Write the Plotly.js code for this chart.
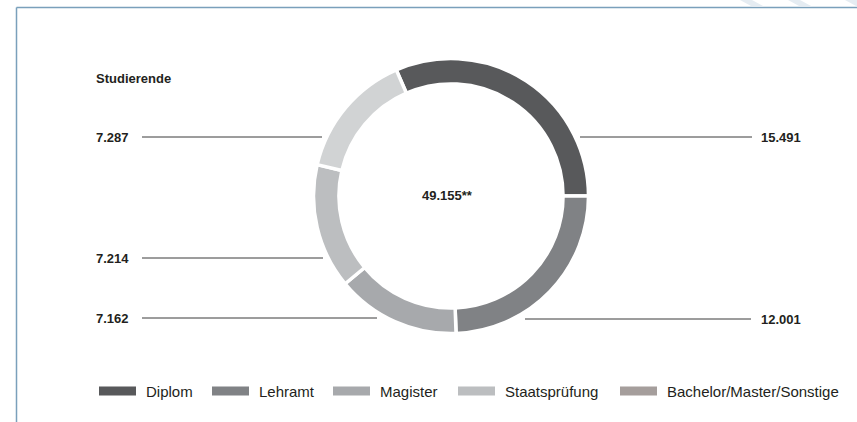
<!DOCTYPE html>
<html>
<head>
<meta charset="utf-8">
<script src="https://cdn.plot.ly/plotly-3.0.1.min.js"></script>
<style>html,body{margin:0;padding:0;background:#fff;}#chart{width:857px;height:422px;}</style>
</head>
<body>
<div id="chart"></div>
<script>
// ---- data ----
var categories = ["Diplom", "Lehramt", "Magister", "Staatsprüfung", "Bachelor/Master/Sonstige"];
var values = [15491, 12001, 7162, 7214, 7287];
var sliceColors = ["#58595b", "#808285", "#a7a9ac", "#bcbec0", "#d1d3d4"];
var legendColors = ["#58595b", "#808285", "#a7a9ac", "#bcbec0", "#a59e9c"];
var chartTitle = "Studierende";
var totalLabel = "49.155**";

// ---- helpers ----
var W = 857, H = 422;
function X(px) { return px / W; }
function Y(py) { return 1 - py / H; }
function fmt(v) {
  var s = String(v);
  return s.replace(/\B(?=(\d{3})+(?!\d))/g, ".");
}
var total = values.reduce(function (a, b) { return a + b; }, 0);
var rotation = 90 - 360 * values[0] / total;

var FONT = "'Liberation Sans', Arial, Helvetica, sans-serif";
var TXT = "#231f20";

// pie geometry (pixels)
var cx = 451, cy = 196, R = 137.5;

var trace = {
  type: "pie",
  labels: categories,
  values: values,
  sort: false,
  direction: "clockwise",
  rotation: rotation,
  hole: 0.815,
  textinfo: "none",
  hoverinfo: "none",
  showlegend: false,
  marker: { colors: sliceColors, line: { color: "#ffffff", width: 3.5 } },
  domain: { x: [X(cx - R), X(cx + R)], y: [Y(cy + R), Y(cy - R)] }
};

var shapes = [];
var annotations = [];

// frame
shapes.push({ type: "line", xref: "paper", yref: "paper", x0: X(16.5), x1: X(16.5), y0: Y(7.5), y1: Y(422), line: { color: "#7aa0bb", width: 1.5 } });
shapes.push({ type: "line", xref: "paper", yref: "paper", x0: X(16.5), x1: X(857), y0: Y(7.5), y1: Y(7.5), line: { color: "#7aa0bb", width: 1.5 } });
// faint watermark stripes above the frame
[[740, 752], [788, 800], [845, 857]].forEach(function (s) {
  var a = s[0];
  shapes.push({ type: "path", xref: "paper", yref: "paper",
    path: "M" + X(a) + "," + Y(0) + " L" + X(a + 12) + "," + Y(0) + " L" + X(a + 24) + "," + Y(6.5) + " L" + X(a + 12) + "," + Y(6.5) + " Z",
    fillcolor: "#e5ecf2", line: { width: 0 } });
});

// title
annotations.push({ xref: "paper", yref: "paper", x: X(94), y: Y(78), xanchor: "left", yanchor: "middle", showarrow: false,
  text: "<b>" + chartTitle + "</b>", font: { family: FONT, size: 13, color: TXT } });

// centre total
annotations.push({ xref: "paper", yref: "paper", x: X(447.5), y: Y(195), xanchor: "center", yanchor: "middle", showarrow: false,
  text: "<b>" + totalLabel + "</b>", font: { family: FONT, size: 13, color: TXT } });

// value labels with leader lines: [index, side, y, lineFrom, lineTo]
var leaders = [
  [0, "right", 137, 580, 752],
  [1, "right", 319, 525, 751],
  [2, "left", 318, 142, 377],
  [3, "left", 258, 142, 323],
  [4, "left", 137, 142, 322]
];
leaders.forEach(function (l) {
  var i = l[0], side = l[1], y = l[2];
  shapes.push({ type: "line", xref: "paper", yref: "paper", x0: X(l[3]), x1: X(l[4]), y0: Y(y), y1: Y(y), line: { color: "#3a3a3a", width: 1 } });
  annotations.push({ xref: "paper", yref: "paper", x: X(side === "left" ? 94 : 759), y: Y(y), xanchor: "left", yanchor: "middle", showarrow: false,
    text: "<b>" + fmt(values[i]) + "</b>", font: { family: FONT, size: 13, color: TXT } });
});

// manual legend
var legendSwatchX = [99, 212, 333, 458, 620];
var legendY = 391;
categories.forEach(function (c, i) {
  var x0 = legendSwatchX[i];
  shapes.push({ type: "rect", xref: "paper", yref: "paper", x0: X(x0), x1: X(x0 + 37), y0: Y(legendY + 4.5), y1: Y(legendY - 4.5), fillcolor: legendColors[i], line: { width: 0 } });
  annotations.push({ xref: "paper", yref: "paper", x: X(x0 + 45), y: Y(legendY), xanchor: "left", yanchor: "middle", showarrow: false,
    text: c, font: { family: FONT, size: 15, color: TXT } });
});

var layout = {
  width: W, height: H,
  margin: { l: 0, r: 0, t: 0, b: 0 },
  paper_bgcolor: "#ffffff",
  plot_bgcolor: "#ffffff",
  showlegend: false,
  shapes: shapes,
  annotations: annotations
};

Plotly.newPlot("chart", [trace], layout, { displayModeBar: false, staticPlot: true });
</script>
</body>
</html>
